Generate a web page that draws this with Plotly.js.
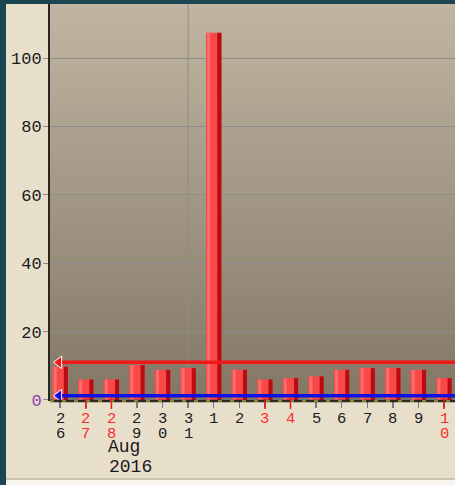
<!DOCTYPE html>
<html>
<head>
<meta charset="utf-8">
<script src="https://cdn.plot.ly/plotly-3.0.1.min.js"></script>
<style>
html,body{margin:0;padding:0;background:#1a4654;}
#chart{width:455px;height:485px;}
</style>
</head>
<body>
<div id="chart"></div>
<script>
// ---- data ----
const dayLabels = ["26","27","28","29","30","31","1","2","3","4","5","6","7","8","9","10"];
const weekend   = [false,true,true,false,false,false,false,false,true,true,false,false,false,false,false,true];
const counts    = [9.7,6.0,6.0,10.2,8.8,9.3,107.4,8.8,6.0,6.4,6.9,8.8,9.3,9.3,8.8,6.4];
const upperLimit = 11.0;
const lowerLimit = 1.25;
const monthLabel = "Aug";
const yearLabel = "2016";
const yTickVals = [0,20,40,60,80,100];

// ---- build ----
const idx = dayLabels.map((_, i) => i);
const FONT = 'Liberation Mono, Courier New, monospace';
const txtColor = '#1a1a1a';
const redTxt = '#ff2a2a';
const FS = 17;

const xRange = [-0.4, 15.43];
const yRange = [-0.3, 115.8];

const shapes = [];
// outer beige panel
shapes.push({type:'rect', xref:'paper', yref:'paper', x0:-44/405, x1:1, y0:-77/397, y1:1, fillcolor:'#e8dfcb', line:{width:0}, layer:'below'});
shapes.push({type:'rect', xref:'paper', yref:'paper', x0:-44/405, x1:1, y0:-84/397, y1:-79/397, fillcolor:'#f8f5ee', line:{width:0}, layer:'below'});
shapes.push({type:'rect', xref:'paper', yref:'paper', x0:-44/405, x1:1, y0:-79/397, y1:-77/397, fillcolor:'#cbc3b3', line:{width:0}, layer:'below'});
// gradient plot background
const gTop = [192,181,161], gBot = [131,120,102];
const N = 60;
for (let k = 0; k < N; k++) {
  const t = k / (N - 1);
  const c = gTop.map((v, j) => Math.round(v + (gBot[j] - v) * t));
  shapes.push({type:'rect', xref:'paper', yref:'paper', x0:0, x1:1,
    y0:1 - (k + 1) / N, y1:Math.min(1, 1 - k / N + 0.002),
    fillcolor:'rgb(' + c.join(',') + ')', line:{width:0}, layer:'below'});
}
// vertical grid line at month boundary
shapes.push({type:'line', xref:'x', yref:'paper', x0:5, x1:5, y0:0, y1:1, line:{color:'#8c8c8c', width:1}, layer:'below'});
// threshold lines
shapes.push({type:'line', xref:'paper', yref:'y', x0:0.03, x1:1, y0:upperLimit, y1:upperLimit, line:{color:'#f01818', width:3.5}});
shapes.push({type:'line', xref:'paper', yref:'y', x0:0.03, x1:1, y0:lowerLimit, y1:lowerLimit, line:{color:'#1010e0', width:3.5}});
// x axis line with yellow dashes
shapes.push({type:'line', xref:'paper', yref:'paper', x0:0, x1:1, y0:0, y1:0, line:{color:'#2a2620', width:2.5}});
shapes.push({type:'line', xref:'paper', yref:'paper', x0:0, x1:1, y0:0, y1:0, line:{color:'#f0e040', width:1, dash:'4px,8px'}});
// red ticks for weekend days
idx.forEach(i => {
  if (weekend[i]) shapes.push({type:'line', xref:'x', yref:'paper', x0:i, x1:i, y0:0.01, y1:-0.02, line:{color:'#f01818', width:1.5}});
});

// stacked-digit tick labels as annotations
const annotations = [];
idx.forEach(i => {
  const chars = dayLabels[i].split("");
  chars.forEach((ch, r) => {
    annotations.push({text:ch, xref:'x', yref:'paper', x:i, y:0, yanchor:'middle',
      yshift:-(17.5 + 15 * r), showarrow:false, borderpad:0,
      font:{family:FONT, size:15.5, color: weekend[i] ? redTxt : txtColor}});
  });
});
annotations.push({text:monthLabel, xref:'x', yref:'paper', x:2.5, y:0, yanchor:'middle', yshift:-46, showarrow:false, borderpad:0,
  font:{family:FONT, size:18, color:txtColor}});
annotations.push({text:yearLabel, xref:'x', yref:'paper', x:2.74, y:0, yanchor:'middle', yshift:-66, showarrow:false, borderpad:0,
  font:{family:FONT, size:18, color:txtColor}});

const traces = [
  {type:'bar', x:idx, y:counts, width:0.6, marker:{color:'#f84848', line:{width:0}}, hoverinfo:'skip'},
  {type:'bar', x:idx, y:counts, width:0.16, offset:0.14, marker:{color:'#b80c14', line:{width:0}}, hoverinfo:'skip'},
  {type:'bar', x:idx, y:counts, width:0.12, offset:-0.26, marker:{color:'#ff6a6a', line:{width:0}}, hoverinfo:'skip'},
  {type:'scatter', mode:'markers', x:[-0.05], y:[upperLimit], marker:{symbol:'triangle-left', size:11, color:'#f01818', line:{color:'#ffffff', width:1}}, hoverinfo:'skip'},
  {type:'scatter', mode:'markers', x:[-0.05], y:[lowerLimit], marker:{symbol:'triangle-left', size:11, color:'#1010e0', line:{color:'#ffffff', width:1}}, hoverinfo:'skip'}
];

const layout = {
  width:455, height:485,
  margin:{l:50, r:0, t:4, b:84, pad:0},
  paper_bgcolor:'#1a4654',
  plot_bgcolor:'rgba(0,0,0,0)',
  showlegend:false,
  barmode:'overlay',
  font:{family:FONT, size:FS, color:txtColor},
  xaxis:{range:xRange, tickmode:'array', tickvals:idx, showticklabels:false,
    showgrid:false, zeroline:false, showline:false,
    ticks:'outside', ticklen:6, tickcolor:'#7a7a7a', tickwidth:1.5, fixedrange:true},
  yaxis:{range:yRange, tickmode:'array', tickvals:yTickVals,
    ticktext:yTickVals.map(v => v === 0 ? '<span style="color:#8a40b0">0</span>' : String(v)),
    showgrid:true, gridcolor:'#8c8c8c', gridwidth:1, zeroline:false,
    showline:true, linecolor:'#2a2620', linewidth:2, mirror:false,
    ticks:'outside', ticklen:5, tickcolor:'#8c8c8c', ticklabelstandoff:-2,
    tickfont:{family:FONT, size:FS, color:txtColor}, fixedrange:true},
  shapes:shapes,
  annotations:annotations
};

Plotly.newPlot('chart', traces, layout, {displayModeBar:false, staticPlot:true});
</script>
</body>
</html>
